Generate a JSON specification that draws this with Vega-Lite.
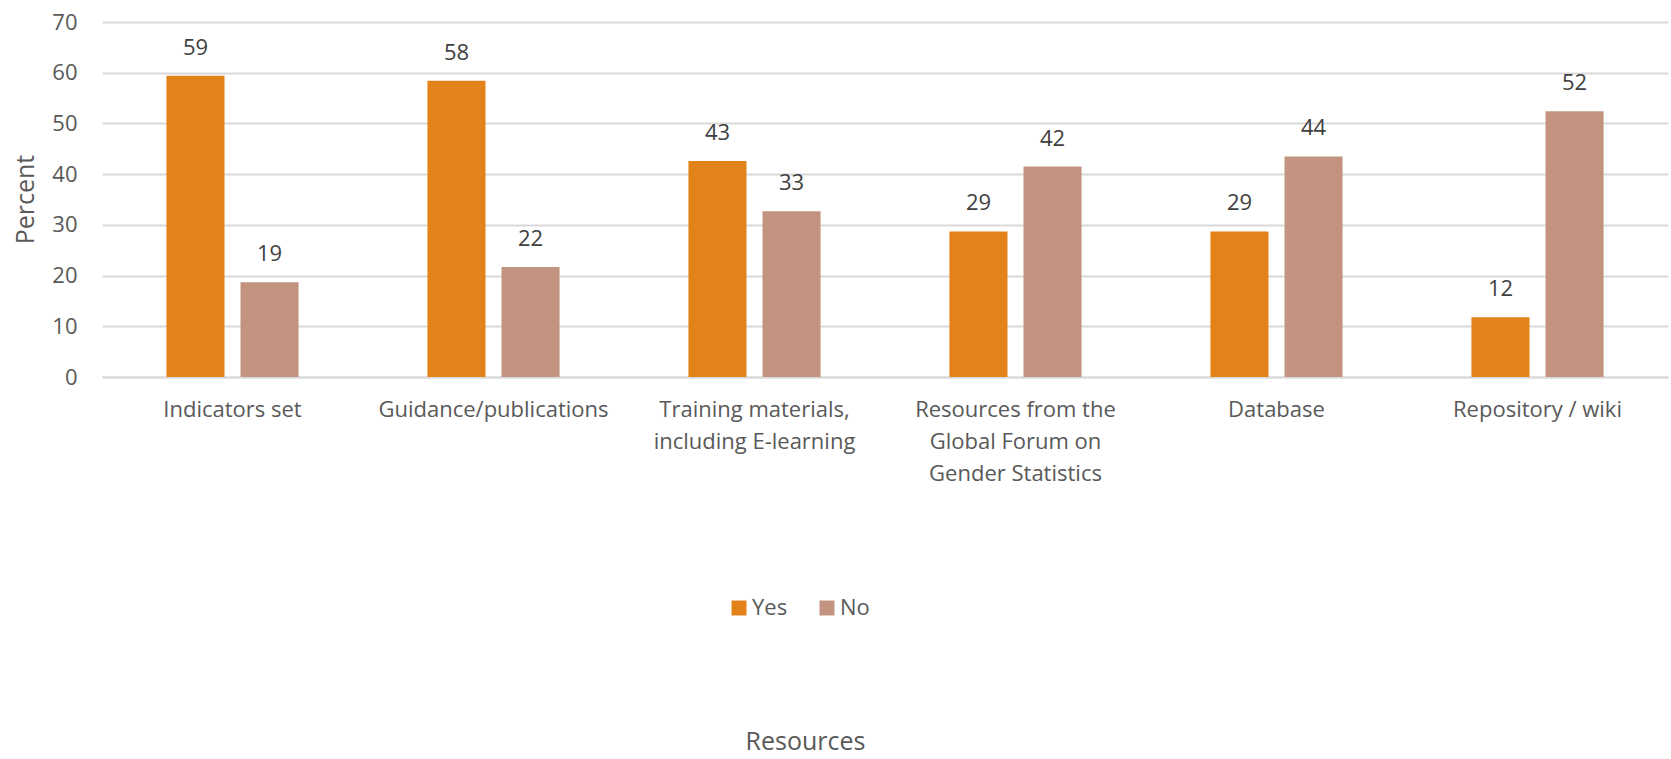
{
  "$schema": "https://vega.github.io/schema/vega-lite/v6.json",
  "autosize": "none",
  "width": 1566,
  "height": 355,
  "padding": {"left": 102, "top": 22, "right": 3, "bottom": 382},
  "background": "white",
  "config": {
    "font": "Open Sans",
    "view": {"stroke": null}
  },
  "data": {
    "values": [
      {"resource": "Indicators set", "answer": "Yes", "percent": 59.4},
      {"resource": "Indicators set", "answer": "No", "percent": 18.7},
      {"resource": "Guidance/publications", "answer": "Yes", "percent": 58.4},
      {"resource": "Guidance/publications", "answer": "No", "percent": 21.7},
      {"resource": "Training materials, including E-learning", "answer": "Yes", "percent": 42.6},
      {"resource": "Training materials, including E-learning", "answer": "No", "percent": 32.7},
      {"resource": "Resources from the Global Forum on Gender Statistics", "answer": "Yes", "percent": 28.7},
      {"resource": "Resources from the Global Forum on Gender Statistics", "answer": "No", "percent": 41.5},
      {"resource": "Database", "answer": "Yes", "percent": 28.7},
      {"resource": "Database", "answer": "No", "percent": 43.5},
      {"resource": "Repository / wiki", "answer": "Yes", "percent": 11.8},
      {"resource": "Repository / wiki", "answer": "No", "percent": 52.4}
    ]
  },
  "encoding": {
    "x": {
      "field": "resource",
      "type": "nominal",
      "sort": null,
      "scale": {"paddingInner": 0, "paddingOuter": 0},
      "axis": {
        "title": "Resources",
        "titleFontSize": 25,
        "titleFontWeight": "normal",
        "titleColor": "#595959",
        "titleX": 703,
        "titleY": 364,
        "titleAlign": "center",
        "titleBaseline": "middle",
        "labelAngle": 0,
        "labelFontSize": 22,
        "labelColor": "#595959",
        "labelPadding": 22,
        "labelLineHeight": 32,
        "labelBaseline": "top",
        "labelLimit": 400,
        "ticks": false,
        "domain": true,
        "domainColor": "#d9d9d9",
        "domainWidth": 2,
        "labelExpr": "datum.value == 'Training materials, including E-learning' ? ['Training materials,', 'including E-learning'] : datum.value == 'Resources from the Global Forum on Gender Statistics' ? ['Resources from the', 'Global Forum on', 'Gender Statistics'] : datum.label"
      }
    },
    "xOffset": {
      "field": "answer",
      "type": "nominal",
      "sort": ["Yes", "No"],
      "scale": {"paddingInner": 0.216, "paddingOuter": 0.87}
    },
    "y": {
      "field": "percent",
      "type": "quantitative",
      "scale": {"domain": [0, 70]},
      "axis": {
        "title": "Percent",
        "titleFontSize": 25,
        "titleFontWeight": "normal",
        "titleColor": "#595959",
        "titleX": -77,
        "titleY": 177,
        "titleAngle": -90,
        "titleAlign": "center",
        "titleBaseline": "middle",
        "values": [0, 10, 20, 30, 40, 50, 60, 70],
        "labelFontSize": 22,
        "labelColor": "#595959",
        "labelPadding": 25,
        "ticks": false,
        "domain": false,
        "gridColor": "#d9d9d9",
        "gridWidth": 2
      }
    }
  },
  "layer": [
    {
      "mark": {"type": "bar"},
      "encoding": {
        "color": {
          "field": "answer",
          "type": "nominal",
          "sort": ["Yes", "No"],
          "scale": {"domain": ["Yes", "No"], "range": ["#E4821A", "#C2947F"]},
          "legend": {
            "title": null,
            "orient": "none",
            "legendX": 626,
            "legendY": 575,
            "direction": "horizontal",
            "symbolType": "square",
            "symbolSize": 225,
            "symbolStrokeWidth": 0,
            "labelFontSize": 22,
            "labelColor": "#595959",
            "labelOffset": 2,
            "columnPadding": 28,
            "padding": 0
          }
        }
      }
    },
    {
      "mark": {"type": "text", "baseline": "middle", "dy": -28, "fontSize": 22, "color": "#404040"},
      "encoding": {
        "text": {"field": "percent", "type": "quantitative", "format": ".0f"}
      }
    }
  ]
}
